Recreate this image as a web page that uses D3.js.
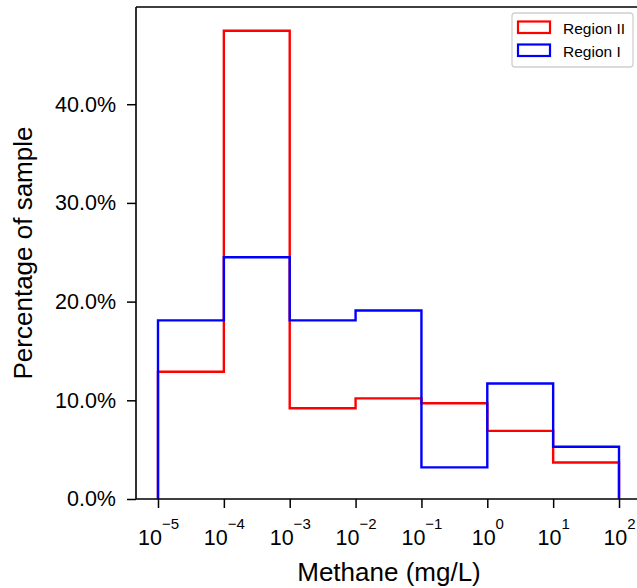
<!DOCTYPE html>
<html>
<head>
<meta charset="utf-8">
<script src="https://cdn.jsdelivr.net/npm/d3@7"></script>
<style>
  html, body { margin: 0; padding: 0; background: #fff; }
  svg { display: block; }
  text { font-family: "Liberation Sans", Arial, sans-serif; fill: #000; }
</style>
</head>
<body>
<script>
// ---- data ----
const binExponents = [-5, -4, -3, -2, -1, 0, 1, 2];          // bin edges as powers of ten
const regionII = [12.9, 47.45, 9.2, 10.2, 9.7, 6.9, 3.7];    // % of sample
const regionI  = [18.1, 24.5, 18.1, 19.1, 3.2, 11.7, 5.3];   // % of sample
const yTicks = [0, 10, 20, 30, 40];
const xTickExponents = [-5, -4, -3, -2, -1, 0, 1, 2];
const seriesNames = ["Region II", "Region I"];
const seriesColors = ["#ff0000", "#0000ff"];

// ---- layout ----
const W = 637, H = 588;
const mLeft = 136, mRight = 642, mTop = 7, mBottom = 499;

const svg = d3.select("body").append("svg").attr("width", W).attr("height", H);

const x = d3.scaleLog().domain([Math.pow(10, -5.334), Math.pow(10, 2.349)]).range([mLeft, mRight]);
const y = d3.scaleLinear().domain([0, 49.85]).range([mBottom, mTop]);

const edges = binExponents.map(e => Math.pow(10, e));

function stepPoints(vals) {
  const pts = [[edges[0], 0]];
  vals.forEach((v, i) => { pts.push([edges[i], v]); pts.push([edges[i + 1], v]); });
  pts.push([edges[edges.length - 1], 0]);
  return pts;
}
const line = d3.line().x(d => x(d[0])).y(d => y(d[1]));

[regionII, regionI].forEach((vals, i) => {
  svg.append("path")
    .attr("d", line(stepPoints(vals)))
    .attr("fill", "none")
    .attr("stroke", seriesColors[i])
    .attr("stroke-width", 2.4)
    .attr("stroke-linejoin", "miter");
});

// ---- axes ----
const yAxis = d3.axisLeft(y).tickValues(yTicks).tickSize(9).tickPadding(11)
  .tickFormat(d => d.toFixed(1) + "%");
const gy = svg.append("g").attr("transform", `translate(${mLeft},0)`).call(yAxis);
gy.select(".domain").remove();
gy.selectAll(".tick line").attr("stroke", "#000").attr("stroke-width", 1.5);
gy.selectAll(".tick text").attr("font-size", 21.5).attr("font-family", "Liberation Sans, Arial, sans-serif")
  .attr("fill", "#111");

const xAxis = d3.axisBottom(x).tickValues(xTickExponents.map(e => Math.pow(10, e))).tickSize(9).tickFormat("");
const gx = svg.append("g").attr("transform", `translate(0,${mBottom})`).call(xAxis);
gx.select(".domain").remove();
gx.selectAll(".tick line").attr("stroke", "#000").attr("stroke-width", 1.5);
gx.selectAll(".tick").each(function(d) {
  const e = Math.round(Math.log10(d));
  const t = d3.select(this).append("text")
    .attr("y", 46).attr("text-anchor", "middle").attr("font-size", 21.5)
    .attr("fill", "#111").attr("font-family", "Liberation Sans, Arial, sans-serif");
  t.append("tspan").text("10");
  t.append("tspan").attr("dy", -16).attr("font-size", 15)
    .text((e < 0 ? "\u2212" : "") + Math.abs(e));
});

// spines
svg.append("path")
  .attr("d", `M${mLeft},${mTop}H${mRight}M${mLeft},${mTop}V${mBottom}H${mRight}`)
  .attr("fill", "none").attr("stroke", "#000").attr("stroke-width", 1.6);

// labels
svg.append("text").attr("x", (mLeft + mRight) / 2).attr("y", 581)
  .attr("text-anchor", "middle").attr("font-size", 26).attr("fill", "#111").text("Methane (mg/L)");
svg.append("text").attr("transform", `translate(32,${(mTop + mBottom) / 2}) rotate(-90)`)
  .attr("text-anchor", "middle").attr("font-size", 26).attr("fill", "#111").text("Percentage of sample");

// ---- legend ----
const lg = svg.append("g");
lg.append("rect").attr("x", 512).attr("y", 13).attr("width", 121).attr("height", 54)
  .attr("rx", 3).attr("fill", "#fff").attr("stroke", "#d0d0d0").attr("stroke-width", 1.3);
seriesNames.forEach((n, i) => {
  const yy = 21.5 + i * 23;
  lg.append("rect").attr("x", 518).attr("y", yy).attr("width", 32).attr("height", 11.5)
    .attr("fill", "none").attr("stroke", seriesColors[i]).attr("stroke-width", 2.2);
  lg.append("text").attr("x", 563).attr("y", yy + 12.5).attr("font-size", 15.5).attr("fill", "#111").text(n);
});
</script>
</body>
</html>
